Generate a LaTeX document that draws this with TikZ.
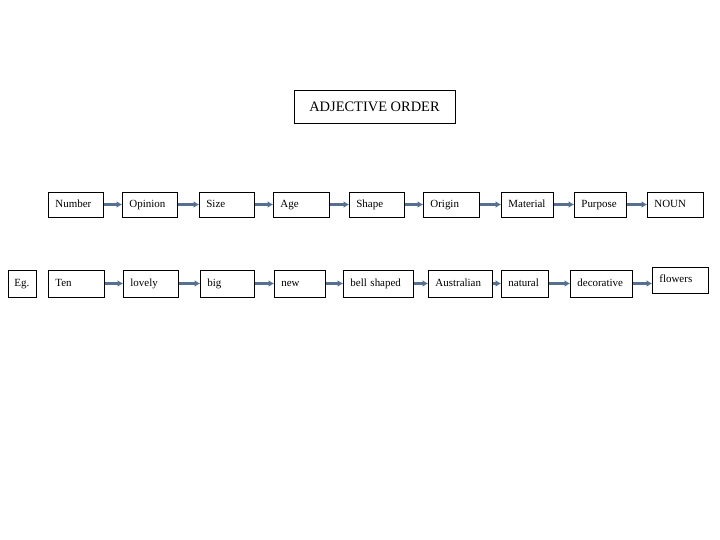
\documentclass[tikz,border=0pt]{standalone}
\usepackage{fontspec}
\setmainfont{Liberation Serif}
\usepackage{tikz}
\usetikzlibrary{arrows.meta, positioning}
\definecolor{arrowblue}{HTML}{56708F}

\begin{document}
\begin{tikzpicture}[
    x=1bp, y=-1bp,
    box/.style={rectangle, draw, line width=0.8bp, anchor=west, inner xsep=7bp, minimum height=25bp, text width=#1, text height=8bp, text depth=2.5bp, align=left, font=\fontsize{11}{13}\selectfont},
    lowbox/.style={box=#1, minimum height=27bp},
    titlebox/.style={rectangle, draw, line width=0.8bp, minimum width=161bp, minimum height=33bp, font=\fontsize{14.5}{17}\selectfont},
    arrow/.style={-{Latex[length=5.5bp, width=7bp]}, line width=2.4bp, arrowblue}
]
\useasboundingbox (0,0) rectangle (720,540);

\node[titlebox] (title) at (374.5,106.5) {ADJECTIVE ORDER};

% order of adjectives
\node[box=41bp] (number) at (48,204.5) {Number};
\node[box=41bp] (opinion) at (122,204.5) {Opinion};
\node[box=41bp] (size) at (199,204.5) {Size};
\node[box=42bp] (age) at (273,204.5) {Age};
\node[box=41bp] (shape) at (349,204.5) {Shape};
\node[box=42bp] (origin) at (423,204.5) {Origin};
\node[box=38bp] (material) at (501,204.5) {Material};
\node[box=38bp] (purpose) at (574,204.5) {Purpose};
\node[box=42bp] (noun) at (647,204.5) {NOUN};

% example
\node[lowbox=16bp, inner xsep=6bp] (eg) at (8,283.5) {Eg.};
\node[lowbox=42bp] (ten) at (48,283.5) {Ten};
\node[lowbox=41bp] (lovely) at (123,283.5) {lovely};
\node[lowbox=40bp] (big) at (200,283.5) {big};
\node[lowbox=37bp] (new) at (274,283.5) {new};
\node[lowbox=56bp] (bell) at (343,283.5) {bell shaped};
\node[lowbox=50bp] (australian) at (428,283.5) {Australian};
\node[lowbox=33bp] (natural) at (501,283.5) {natural};
\node[lowbox=48bp] (decorative) at (570,283.5) {decorative};
\node[box=42bp, minimum height=26bp] (flowers) at (652,280) {flowers};

\draw[arrow] (number) -- (opinion);
\draw[arrow] (opinion) -- (size);
\draw[arrow] (size) -- (age);
\draw[arrow] (age) -- (shape);
\draw[arrow] (shape) -- (origin);
\draw[arrow] (origin) -- (material);
\draw[arrow] (material) -- (purpose);
\draw[arrow] (purpose) -- (noun);

\draw[arrow] (ten) -- (lovely);
\draw[arrow] (lovely) -- (big);
\draw[arrow] (big) -- (new);
\draw[arrow] (new) -- (bell);
\draw[arrow] (bell) -- (australian);
\draw[arrow] (australian) -- (natural);
\draw[arrow] (natural) -- (decorative);
\draw[arrow] (decorative.east) -- (decorative.east -| flowers.west);

\end{tikzpicture}
\end{document}
